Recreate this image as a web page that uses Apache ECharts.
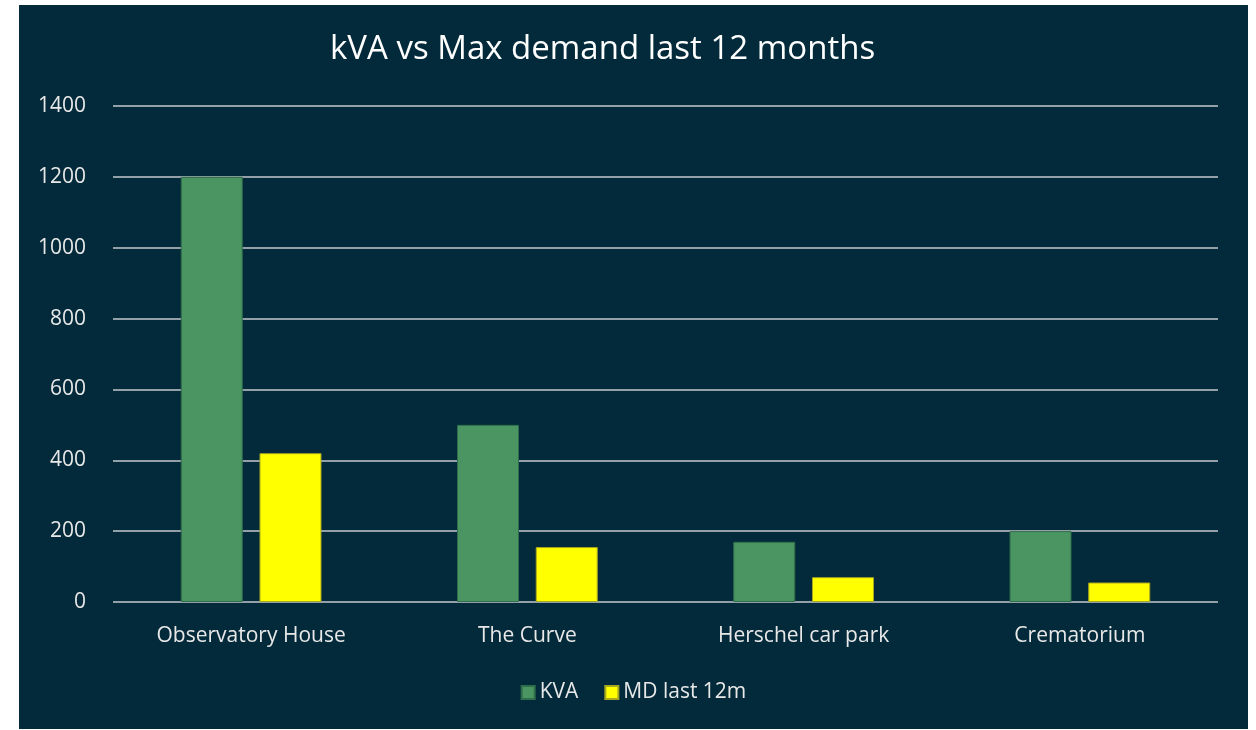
<!DOCTYPE html>
<html>
<head>
<meta charset="utf-8">
<script src="https://cdn.jsdelivr.net/npm/echarts@6/dist/echarts.min.js"></script>
<style>
  html, body { margin: 0; padding: 0; background: #ffffff; }
  #main { position: absolute; left: 19px; top: 5px; width: 1229px; height: 724px; }
</style>
</head>
<body>
<div id="main"></div>
<script>
"use strict";
// sites and values
const sites = ["Observatory House", "The Curve", "Herschel car park", "Crematorium"];
const kva = [1200, 500, 170, 200];
const mdLast12m = [420, 155, 70, 55];
const seriesNames = ["KVA", "MD last 12m"];

var chartDom = document.getElementById("main");
var myChart = echarts.init(chartDom);
var font = "'Open Sans', 'Noto Sans', sans-serif";
var option;

option = {
  backgroundColor: "#022a3a",
  animation: false,
  title: {
    text: "kVA vs Max demand last 12 months",
    left: 306,
    top: 23,
    textStyle: { color: "#ffffff", fontSize: 33, fontWeight: "normal", fontFamily: font },
  },
  legend: {
    top: 672,
    left: "center",
    itemWidth: 13,
    itemHeight: 13,
    itemGap: 26,
    icon: "rect",
    textStyle: { color: "#e8e8e8", fontSize: 21, fontFamily: font },
    data: seriesNames,
  },
  grid: { left: 94, right: 30, top: 101, bottom: 127 },
  xAxis: {
    type: "category",
    data: sites,
    axisLine: { show: false },
    axisTick: { show: false },
    axisLabel: { color: "#e8e8e8", fontSize: 21, margin: 24, fontFamily: font },
  },
  yAxis: {
    type: "value",
    min: 0,
    max: 1400,
    interval: 200,
    axisLine: { show: false },
    axisTick: { show: false },
    axisLabel: {
      color: "#e8e8e8",
      fontSize: 21,
      margin: 27,
      fontFamily: font,
      formatter: function (v) { return String(v); },
    },
    splitLine: { lineStyle: { color: "#c4c8cc", width: 1.5 } },
  },
  series: [
    {
      name: seriesNames[0],
      type: "bar",
      data: kva,
      barWidth: 62,
      barGap: "27%",
      itemStyle: { color: "#4b9562", borderColor: "#2f6e4a", borderWidth: 1 },
    },
    {
      name: seriesNames[1],
      type: "bar",
      data: mdLast12m,
      barWidth: 62,
      barGap: "27%",
      itemStyle: { color: "#ffff00", borderColor: "#a8a820", borderWidth: 1 },
    },
  ],
};

option && myChart.setOption(option);
</script>
</body>
</html>
